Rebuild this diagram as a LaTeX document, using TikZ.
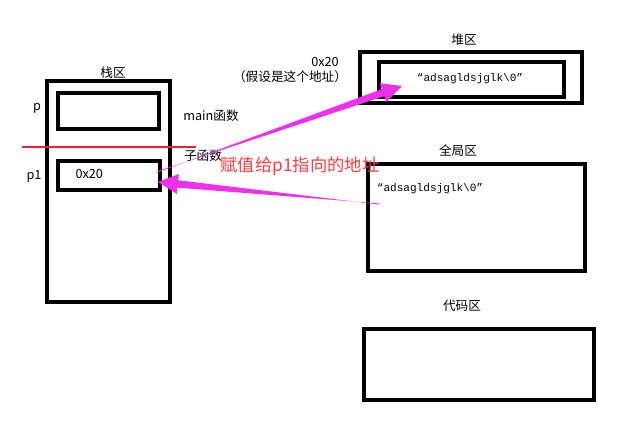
\documentclass[tikz,border=0pt]{standalone}
\usepackage{fontspec}
\setmainfont{Noto Sans CJK SC}
\newfontfamily\strfont{Liberation Mono}
\usetikzlibrary{calc,positioning}
\definecolor{arrowpink}{RGB}{236,48,236}
\definecolor{lineRed}{RGB}{232,36,42}
\definecolor{noteRed}{RGB}{255,59,59}
\tikzset{
  box/.style={draw, line width=2.3pt, inner sep=0pt},
  lbl/.style={font=\fontsize{9.5}{11}\selectfont, inner sep=1pt},
  strlbl/.style={font=\strfont\fontsize{8.3}{10}\selectfont, inner sep=1pt}
}
% wedge shaped arrow from #1 (thin tail) to #2 (tip)
\newcommand{\fatarrow}[2]{%
  \coordinate (hb) at ($(#2)!15pt!(#1)$);
  \fill[arrowpink] ($(#1)!0.4pt!90:(#2)$) -- ($(hb)!2.8pt!-90:(#2)$)
    -- ($(hb)!7.5pt!-90:(#2)$) -- (#2) -- ($(hb)!7.5pt!90:(#2)$)
    -- ($(hb)!2.8pt!90:(#2)$) -- ($(#1)!0.4pt!-90:(#2)$) -- cycle;}
\begin{document}
\begin{tikzpicture}[x=0.75pt, y=-0.75pt]
  \useasboundingbox (0,0) rectangle (630,423);
  % stack
  \node [box, minimum width=92.25pt, minimum height=165.75pt] (stack) at (108.5,191.5) {};
  \node [box, minimum width=75.75pt, minimum height=27pt] (pbox) at (108.5,111) {};
  \node [box, minimum width=76.5pt, minimum height=21.75pt] (pobox) at (109,175.5) {};
  \node [lbl] (stacklbl) at (113,73) {栈区};
  \node [lbl] (plbl) at (37,108) {p};
  \node [lbl] (polbl) at (34,176) {p1};
  \node [lbl, anchor=west] (poval) at (74,174) {0x20};
  \node [lbl] (mainlbl) at (211,116) {main函数};
  \node [lbl] (sublbl) at (203,156) {子函数};
  \coordinate (sepl) at (22,147);
  \coordinate (sepr) at (196,147);
  \draw [lineRed, line width=1.5pt] (sepl) -- (sepr);
  % heap
  \node [box, minimum width=166.5pt, minimum height=38.25pt] (heap) at (471,77.5) {};
  \node [box, minimum width=138.75pt, minimum height=26.25pt] (heapin) at (471.5,79.5) {};
  \node [lbl] (heaplbl) at (464,40) {堆区};
  \node [strlbl] (heapstr) at (470,79) {“adsagldsjglk\textbackslash0”};
  \node [lbl] (addr) at (325,62) {0x20};
  \node [lbl] (addrnote) at (290,77) {（假设是这个地址）};
  % global
  \node [box, minimum width=162.75pt, minimum height=80.25pt] (global) at (476.5,217.5) {};
  \node [lbl] (globallbl) at (458,151) {全局区};
  \node [strlbl] (globalstr) at (430,189) {“adsagldsjglk\textbackslash0”};
  % code
  \node [box, minimum width=172.5pt, minimum height=53.25pt] (code) at (479,364.5) {};
  \node [lbl] (codelbl) at (462,306) {代码区};
  % arrows
  \coordinate (aonetail) at (157,172);
  \coordinate (aonetip) at (402,86);
  \coordinate (atwotail) at (379,204);
  \coordinate (atwotip) at (158,182);
  \fatarrow{aonetail}{aonetip}
  \fatarrow{atwotail}{atwotip}
  \node [font=\fontsize{13}{15}\selectfont, text=noteRed, inner sep=0pt] (note) at (300,166) {赋值给p1指向的地址};
\end{tikzpicture}
\end{document}
